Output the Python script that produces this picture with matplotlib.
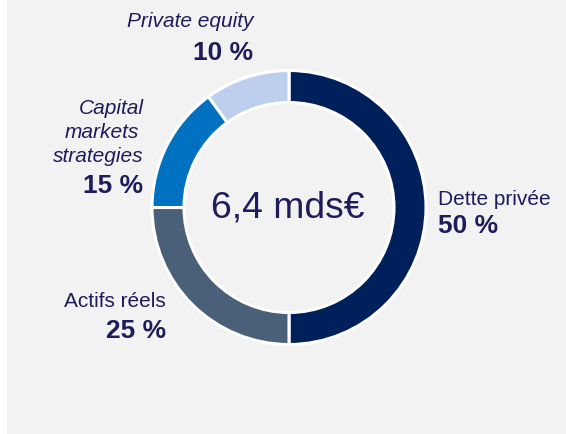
import matplotlib.pyplot as plt
from matplotlib.patches import Rectangle

plt.rcParams['font.family'] = ['Liberation Sans', 'DejaVu Sans']

# data
categories = ["Dette privée", "Actifs réels", "Capital\nmarkets\nstrategies", "Private equity"]
shares = [50, 25, 15, 10]
colors = ["#00205b", "#4a6078", "#0070c0", "#bccfee"]
total_label = "6,4 mds€"

W, H = 566, 435
txt = "#1e1c5a"

fig = plt.figure(figsize=(W / 100, H / 100), dpi=100, facecolor="white")
ax = fig.add_axes([0, 0, 1, 1])

# grey panel
ax.add_patch(Rectangle((7, 0), W - 7, H, facecolor="#f2f2f2", edgecolor="none", zorder=0))

cx, cy, r = 289, H - 208.5, 137
ax.pie(shares, colors=colors, startangle=90, counterclock=False,
       center=(cx, cy), radius=r, frame=True,
       wedgeprops=dict(width=32, edgecolor="white", linewidth=2.2))
ax.set_xlim(0, W)
ax.set_ylim(0, H)
ax.set_aspect("equal")
ax.axis("off")

ax.text(cx - 1, H - 218, total_label, fontsize=26.8, color=txt, ha="center", va="baseline")

lab = 15
val = 19

def y(p):
    return H - p

# Dette privee
ax.text(438, y(205), categories[0], fontsize=lab, color=txt, ha="left", va="baseline")
ax.text(438, y(233), f"{shares[0]} %", fontsize=val, color=txt, weight="bold", ha="left", va="baseline")

# Actifs reels
ax.text(166, y(307), categories[1], fontsize=lab, color=txt, ha="right", va="baseline")
ax.text(166, y(338), f"{shares[1]} %", fontsize=val, color=txt, weight="bold", ha="right", va="baseline")

# Capital markets strategies
cms = categories[2].split("\n")
ax.text(144, y(114), cms[0], fontsize=lab, color=txt, style="italic", ha="right", va="baseline")
ax.text(139, y(138), cms[1], fontsize=lab, color=txt, style="italic", ha="right", va="baseline")
ax.text(144, y(162), cms[2], fontsize=lab, color=txt, style="italic", ha="right", va="baseline")
ax.text(143, y(193), f"{shares[2]} %", fontsize=val, color=txt, weight="bold", ha="right", va="baseline")

# Private equity
ax.text(253, y(27), categories[3], fontsize=lab, color=txt, style="italic", ha="right", va="baseline")
ax.text(253, y(60), f"{shares[3]} %", fontsize=val, color=txt, weight="bold", ha="right", va="baseline")

fig.savefig("out.png", dpi=100, facecolor="white")
